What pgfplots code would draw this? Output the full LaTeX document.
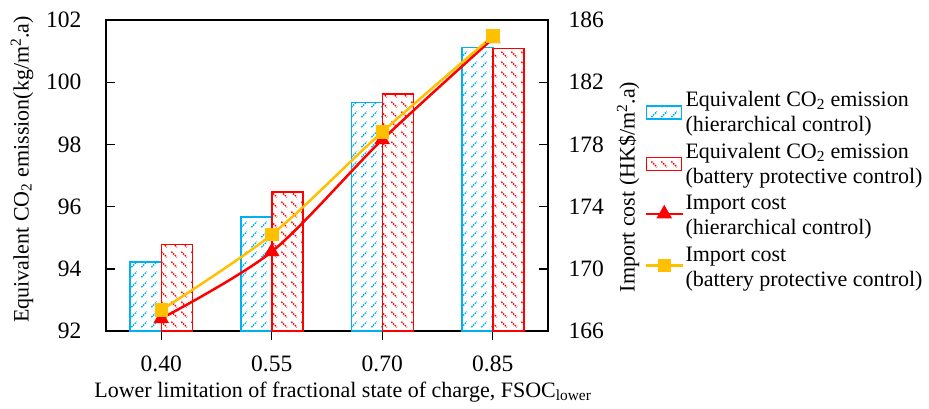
\documentclass[border=0pt]{standalone}
\usepackage{fontspec}
\setmainfont{Liberation Serif}
\usepackage{pgfplots}
\usepackage{pgfplotstable}
\pgfplotsset{compat=1.18}
\usetikzlibrary{patterns}

\definecolor{cblue}{HTML}{00B0F0}
\definecolor{cred}{HTML}{FF0000}
\definecolor{corange}{HTML}{FFC000}

% short dashed diagonal hatching for the bars
\pgfdeclarepatternformonly{dashNE}{\pgfpointorigin}{\pgfpoint{10pt}{10pt}}{\pgfpoint{10pt}{10pt}}{%
  \pgfsetlinewidth{1.6pt}\pgfsetdash{{1.6pt}{1.1pt}}{0pt}%
  \pgfpathmoveto{\pgfpoint{1.5pt}{2pt}}\pgfpathlineto{\pgfpoint{7.5pt}{8pt}}\pgfusepath{stroke}}
\pgfdeclarepatternformonly{dashNW}{\pgfpointorigin}{\pgfpoint{10pt}{10pt}}{\pgfpoint{10pt}{10pt}}{%
  \pgfsetlinewidth{1.6pt}\pgfsetdash{{1.6pt}{1.1pt}}{0pt}%
  \pgfpathmoveto{\pgfpoint{1.5pt}{8pt}}\pgfpathlineto{\pgfpoint{7.5pt}{2pt}}\pgfusepath{stroke}}

% equivalent CO2 emission (kg/m2.a)
\pgfplotstableread{
x  hier    batt
0  94.22   94.78
1  95.66   96.47
2  99.34   99.62
3  101.12  101.09
}\emission

% import cost (HK$/m2.a)
\pgfplotstableread{
x  hier    batt
0  166.8   167.35
1  171.1   172.2
2  178.3   178.8
3  184.8   184.97
}\cost

\pgfplotsset{
  patchleg/.style={legend image code/.code={%
      \draw[##1] (0pt,-6pt) rectangle (35pt,7pt);}},
  lineleg/.style={legend image code/.code={%
      \draw[mark repeat=2,mark phase=2,##1] plot coordinates {(0pt,2pt) (18pt,2pt) (36pt,2pt)};}},
  common/.style={
    at={(106pt,77pt)}, anchor=south west,
    scale only axis, width=442pt, height=311pt,
    xmin=-0.5, xmax=3.5,
    tick align=inside,
    major tick length=9pt,
    every tick/.style={black, line width=1.4pt},
    axis line style={black, line width=1.6pt},
    /pgf/number format/assume math mode=true,
    ticklabel style={font=\fontsize{23.5}{27}\selectfont},
  },
}

\newcommand{\twoline}[2]{\begin{tabular}[t]{@{}l@{}}#1\\#2\end{tabular}}

\begin{document}
\begin{tikzpicture}[font=\fontsize{22}{25}\selectfont]
\begin{axis}[
  common,
  ymin=92, ymax=102,
  ybar=0pt, bar width=31pt,
  xtick={0,1,2,3}, xticklabels={0.40,0.55,0.70,0.85},
  ytick={92,94,...,102},
  xtick pos=bottom, ytick pos=left,
  xticklabel style={yshift=-12pt},
  yticklabel style={xshift=-21pt},
  xlabel={Lower limitation of fractional state of charge, FSOC\textsubscript{lower}},
  xlabel style={at={(axis description cs:0.536,-0.196)}, anchor=center},
  ylabel={Equivalent CO\textsubscript{2} emission(kg/m\textsuperscript{2}.a)},
  ylabel style={at={(axis description cs:-0.19,0.52)}, anchor=center},
]
\addplot[draw=cblue, line width=1.5pt, pattern=dashNE, pattern color=cblue]
  table[x=x, y=hier] {\emission};
\addplot[draw=cred, line width=1.5pt, pattern=dashNW, pattern color=cred]
  table[x=x, y=batt] {\emission};
\end{axis}

\begin{axis}[
  common,
  ymin=166, ymax=186,
  ytick={166,170,...,186},
  axis x line=none,
  axis y line*=right,
  yticklabel style={xshift=17pt},
  ylabel={Import cost (HK\$/m\textsuperscript{2}.a)},
  ylabel style={at={(axis description cs:1.181,0.463)}, anchor=center},
  legend style={at={(axis description cs:1.219,0.785)}, anchor=north west,
    draw=none, fill=none, inner sep=0pt, row sep=0pt,
    font=\fontsize{22}{25}\selectfont,
    nodes={text height=17.5pt, text depth=30pt},
    cells={anchor=base west}},
  legend cell align=left,
]
\addlegendimage{patchleg, draw=cblue, line width=1.5pt, pattern=dashNE, pattern color=cblue}
\addlegendentry{\twoline{Equivalent CO\textsubscript{2} emission}{(hierarchical control)}}
\addlegendimage{patchleg, draw=cred, line width=1.5pt, pattern=dashNW, pattern color=cred}
\addlegendentry{\twoline{Equivalent CO\textsubscript{2} emission}{(battery protective control)}}
\addplot[lineleg, color=cred, line width=2.5pt, smooth, mark=triangle*, mark size=6.5pt]
  table[x=x, y=hier] {\cost};
\addlegendentry{\twoline{Import cost}{(hierarchical control)}}
\addplot[lineleg, color=corange, line width=2.5pt, smooth, mark=square*, mark size=5.5pt]
  table[x=x, y=batt] {\cost};
\addlegendentry{\twoline{Import cost}{(battery protective control)}}
\end{axis}

\pgfresetboundingbox
\path[use as bounding box] (0,0) rectangle (929pt,408pt);
\end{tikzpicture}
\end{document}
